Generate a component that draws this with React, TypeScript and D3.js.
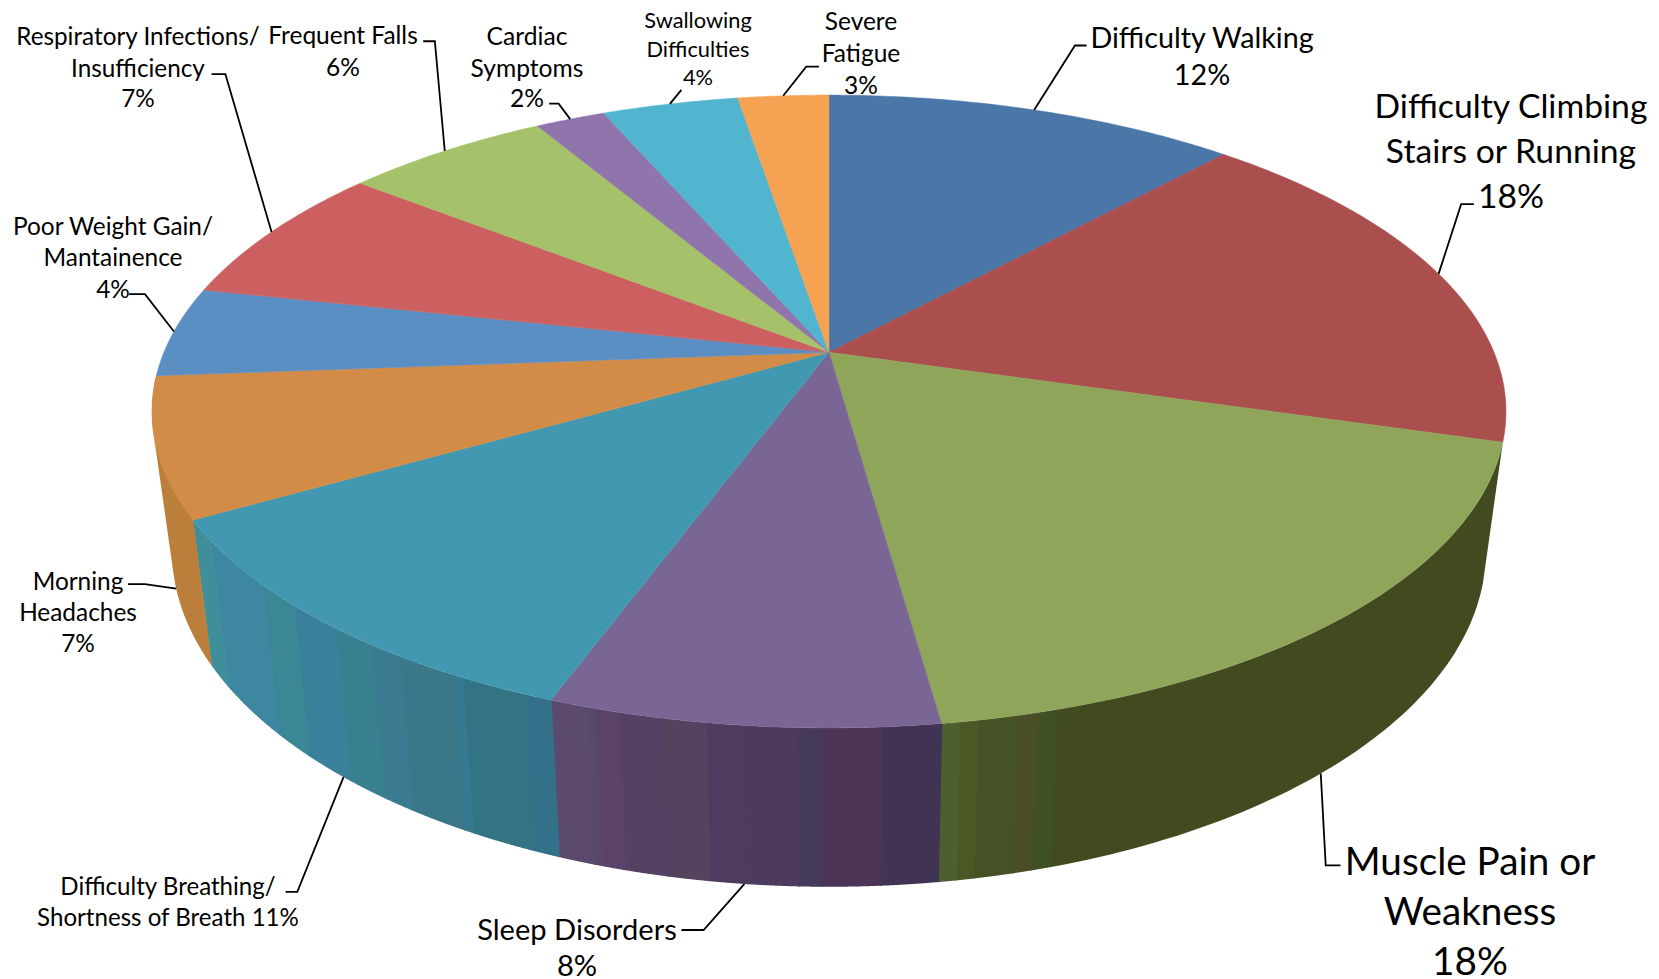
import React from "react";
import * as d3 from "d3";

// ---- data (slices in clockwise order from 12 o'clock)
const categories = [
  "Difficulty Walking", "Difficulty Climbing Stairs or Running", "Muscle Pain or Weakness",
  "Sleep Disorders", "Difficulty Breathing/ Shortness of Breath", "Morning Headaches",
  "Poor Weight Gain/ Mantainence", "Respiratory Infections/ Insufficiency", "Frequent Falls",
  "Cardiac Symptoms", "Swallowing Difficulties", "Severe Fatigue",
];
const sliceValues = [11.8, 17.7, 18.3, 7.8, 11.1, 7.1, 4.6, 7.2, 5.9, 2.0, 3.9, 2.6];
const topColors = ["#4a76a8", "#ab4f4e", "#8fa55a", "#7a6694", "#4298b0", "#d38c47", "#5b8fc4", "#cc6060", "#a5c169", "#9075ac", "#52b5cf", "#f5a352"];
const labelLines = [
  ["Difficulty Walking", "12%"],
  ["Difficulty Climbing", "Stairs or Running", "18%"],
  ["Muscle Pain or", "Weakness", "18%"],
  ["Sleep Disorders", "8%"],
  ["Difficulty Breathing/", "Shortness of Breath 11%"],
  ["Morning", "Headaches", "7%"],
  ["Poor Weight Gain/", "Mantainence", "4%"],
  ["Respiratory Infections/", "Insufficiency", "7%"],
  ["Frequent Falls", "6%"],
  ["Cardiac", "Symptoms", "2%"],
  ["Swallowing", "Difficulties", "4%"],
  ["Severe", "Fatigue", "3%"],
];

// side-wall shading: fraction of the slice's arc at which each band ends, and its colour
const greenBandEnds = [0.872, 0.894, 0.916, 0.96, 0.98, 1];
const greenBandColors = ["#424b20", "#3f5025", "#4a4e28", "#445226", "#4a5826", "#4d5f2e"];
const purpleBandEnds = [0.15, 0.3, 0.36, 0.49, 0.59, 0.7, 0.815, 0.88, 0.9, 1];
const purpleBandColors = ["#413354", "#4b3456", "#463a5c", "#4c3b5c", "#4d3b60", "#54435f", "#534263", "#5a4269", "#554a67", "#5b4a6e"];
const tealBandEnds = [0.05, 0.18, 0.2, 0.32, 0.39, 0.48, 0.6, 0.69, 0.7, 0.91, 1];
const tealBandColors = ["#33718a", "#327484", "#367a91", "#3a7788", "#3a7b91", "#39808f", "#3a809b", "#3a8795", "#3c8496", "#3e87a1", "#3f8f9b"];
const orangeBandEnds = [1];
const orangeBandColors = ["#bb7f3b"];
const walls = new Map<number, { ends: number[]; colors: string[] }>([
  [2, { ends: greenBandEnds, colors: greenBandColors }],
  [3, { ends: purpleBandEnds, colors: purpleBandColors }],
  [4, { ends: tealBandEnds, colors: tealBandColors }],
  [5, { ends: orangeBandEnds, colors: orangeBandColors }],
]);
const HULL_WALL = 5; // the wall at the silhouette's edge is closed along the tangent

// ---- perspective disc
const W = 1659, H = 979;
const F = 1659 / 1568;
const PERSP = 0.187;
const topRim = { ax: 783.5 * F, ay: 333 * F, A: 628.6 * F, B: 288.6 * F };
const botRim = { ax: 783.5 * F, ay: 461 * F, A: 610 * F, B: 306.6 * F };
type Rim = typeof topRim;
const project = (r: Rim, t: number): [number, number] => {
  const w = 1 / (1 + PERSP * Math.cos(t));
  return [r.ax + r.A * Math.sin(t) * w, r.ay - r.B * Math.cos(t) * w];
};
const arcPoints = (r: Rim, a: number, b: number) =>
  d3.range(0, 61).map((i) => project(r, d3.interpolateNumber(a, b)(i / 60)));
const line = d3.line();

// ---- label layout, per slice
const labelFont = [28.7, 33.7, 38.7, 29.1, 24.1, 24.4, 24.4, 24.3, 24.5, 24.6, 21.8, 24.5];
const labelX = [1202, 1511, 1470, 577, 168, 78, 113, 138, 343, 527, 698, 861];
const labelY = [
  [37, 74], [105, 150, 195], [860, 910, 960], [928, 964], [885, 916], [580, 611, 642],
  [225, 256, 288], [35, 67, 97], [34, 66], [35, 67, 97], [19, 48, 76], [20, 52, 84],
];
const leaderOnBottom = [false, false, true, true, true, true, false, false, false, false, false, false];
const leaderTail: [number, number][][] = [
  [[1016, 43], [1027, 43]],
  [[1381, 193], [1393, 193]],
  [[1253, 818], [1267, 818]],
  [[665, 879], [644, 879]],
  [[281, 843], [270, 843]],
  [[137, 552], [121, 552]],
  [[137, 278], [122, 278]],
  [[213, 70], [200, 70]],
  [[411, 39], [400, 39]],
  [[528, 98], [519, 98]],
  [[644, 85]],
  [[762, 63], [774, 63]],
];

export default function App() {
  const arcs = d3.pie<number>().sort(null)(sliceValues);
  return (
    <svg width={W} height={H} viewBox={`0 0 ${W} ${H}`} style={{ position: "absolute", left: 0, top: 0, background: "#fff" }}
      fontFamily="Lato, 'Open Sans', sans-serif">
      <title>{categories.join(", ")}</title>
      {arcs.map((a, i) => {
        const wall = walls.get(i);
        if (!wall) return null;
        const span = d3.scaleLinear().domain([0, 1]).range([a.startAngle, a.endAngle]);
        return wall.ends.map((end, k) => {
          const s = span(k === 0 ? 0 : wall.ends[k - 1]) - 0.001;
          const e = span(end) + 0.001;
          const upper = arcPoints(topRim, s, e);
          const lower = arcPoints(botRim, s, e);
          const pts = i === HULL_WALL ? d3.polygonHull([...upper, ...lower])! : [...upper, ...lower.reverse()];
          return <path key={`${i}-${k}`} d={line(pts) + "Z"} fill={wall.colors[k]} />;
        });
      })}
      {arcs.map((a, i) => (
        <path key={i} d={line([[topRim.ax, topRim.ay], ...arcPoints(topRim, a.startAngle, a.endAngle)]) + "Z"}
          fill={topColors[i]} stroke={topColors[i]} strokeWidth={0.5} />
      ))}
      {arcs.map((a, i) => {
        const mid = (a.startAngle + a.endAngle) / 2;
        const start = project(leaderOnBottom[i] ? botRim : topRim, mid);
        const pts: [number, number][] = [start, ...leaderTail[i].map(([x, y]) => [x * F, y * F] as [number, number])];
        return <path key={i} d={line(pts)!} fill="none" stroke="#000" strokeWidth={1.8} />;
      })}
      {labelLines.map((lines, i) =>
        lines.map((t, k) => (
          <text key={`${i}-${k}`} x={labelX[i]} y={labelY[i][k]} textAnchor="middle" dominantBaseline="central"
            fontSize={labelFont[i]} fill="#000">{t}</text>
        ))
      )}
    </svg>
  );
}
